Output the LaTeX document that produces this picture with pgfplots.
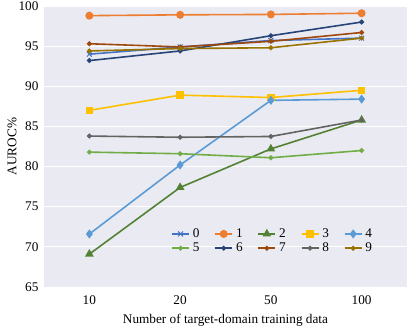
\documentclass[border=0pt]{standalone}
\usepackage{fontspec}
\setmainfont{Liberation Serif}
\usepackage{pgfplots}
\pgfplotsset{compat=1.18}
\definecolor{bg}{HTML}{EAEAF2}
\definecolor{c0}{HTML}{4472C4}
\definecolor{c1}{HTML}{ED7D31}
\definecolor{c2}{HTML}{548235}
\definecolor{c3}{HTML}{FFC000}
\definecolor{c4}{HTML}{5B9BD5}
\definecolor{c5}{HTML}{70AD47}
\definecolor{c6}{HTML}{264478}
\definecolor{c7}{HTML}{9E480E}
\definecolor{c8}{HTML}{636363}
\definecolor{c9}{HTML}{997300}
\begin{document}
\begin{tikzpicture}
\begin{axis}[
  width=363bp, height=281bp, scale only axis,
  xmin=-0.5, xmax=3.5, ymin=65, ymax=100,
  xtick={0,1,2,3}, xticklabels={10,20,50,100},
  ytick={65,70,...,100},
  axis line style={draw=none},
  tick style={draw=none},
  axis background/.style={fill=bg},
  ymajorgrids, grid style={white, line width=0.8pt},
  font=\fontsize{13.3}{15}\selectfont,
  /pgf/number format/assume math mode=true,
  xticklabel style={yshift=-5bp},
  yticklabel style={xshift=-2bp},
  xlabel={Number of target-domain training data},
  ylabel={AUROC\%},
  xlabel style={at={(axis description cs:0.5,-0.117)}, anchor=center},
  ylabel style={at={(axis description cs:-0.088,0.5)}, anchor=center},
  every axis plot/.append style={line width=1.6pt},
  legend columns=5,
  legend style={draw=none, fill=none, at={(0.35,0.215)}, anchor=north west,
    font=\fontsize{13.3}{15}\selectfont, column sep=1pt, row sep=0pt,
    inner sep=0pt,
    /tikz/every even column/.append style={column sep=13pt}},
  legend cell align=left,
]
\addplot[c0, mark=x, mark size=3.5pt, mark options={line width=1pt}] coordinates {(0,94.0)(1,94.9)(2,95.7)(3,96.0)};
\addlegendentry{0}
\addplot[c1, mark=*, mark size=3.2pt] coordinates {(0,98.8)(1,98.9)(2,98.95)(3,99.1)};
\addlegendentry{1}
\addplot[c2, mark=triangle*, mark size=3.5pt] coordinates {(0,69.1)(1,77.4)(2,82.2)(3,85.8)};
\addlegendentry{2}
\addplot[c3, mark=square*, mark size=3pt] coordinates {(0,87.0)(1,88.9)(2,88.6)(3,89.5)};
\addlegendentry{3}
\addplot[c4, mark=diamond*, mark size=3.3pt] coordinates {(0,71.6)(1,80.2)(2,88.25)(3,88.4)};
\addlegendentry{4}
\addplot[c5, mark=*, mark size=1.6pt] coordinates {(0,81.8)(1,81.6)(2,81.1)(3,82.0)};
\addlegendentry{5}
\addplot[c6, mark=*, mark size=1.6pt] coordinates {(0,93.2)(1,94.4)(2,96.3)(3,98.0)};
\addlegendentry{6}
\addplot[c7, mark=*, mark size=1.6pt] coordinates {(0,95.3)(1,94.9)(2,95.6)(3,96.7)};
\addlegendentry{7}
\addplot[c8, mark=*, mark size=1.6pt] coordinates {(0,83.8)(1,83.65)(2,83.75)(3,85.8)};
\addlegendentry{8}
\addplot[c9, mark=*, mark size=1.6pt] coordinates {(0,94.4)(1,94.7)(2,94.8)(3,96.0)};
\addlegendentry{9}
\end{axis}
\pgfresetboundingbox
\path (-44bp,-44bp) rectangle (371bp,287bp);
\end{tikzpicture}
\end{document}
